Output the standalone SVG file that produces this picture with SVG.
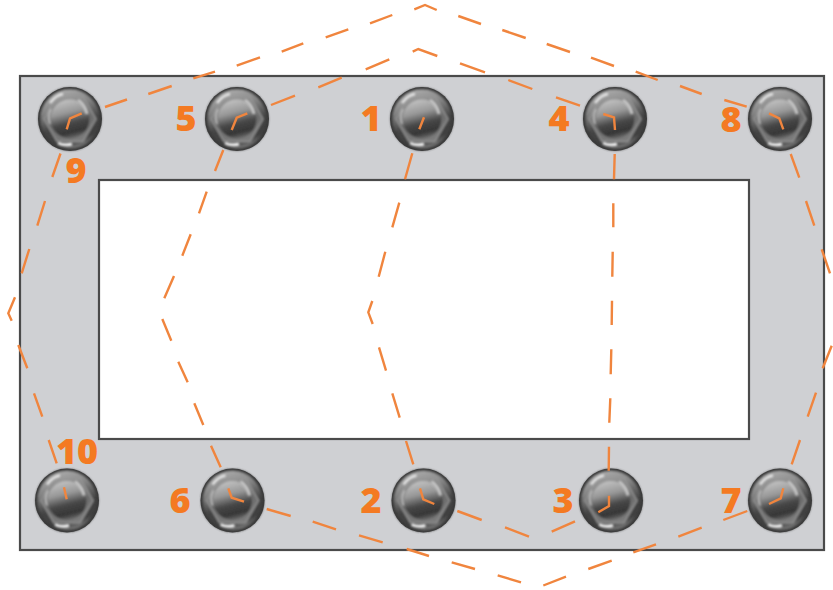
<svg xmlns="http://www.w3.org/2000/svg" xmlns:xlink="http://www.w3.org/1999/xlink" width="833" height="590" viewBox="0 0 833 590">
<style>
.plate{fill:#cfd0d3;stroke:#4a4a4a;stroke-width:2.2}
.win{fill:#fff;stroke:#4a4a4a;stroke-width:2.2}
.lbl{font-family:"Open Sans","Liberation Sans",sans-serif;font-weight:800;font-size:36px;fill:#f47a22;text-anchor:middle}
.c{fill:none;stroke:#f0853e;stroke-width:2.4;stroke-linecap:butt;stroke-linejoin:miter}
</style>
<defs>
<linearGradient id="sweep" x1="0.3" y1="0" x2="0.6" y2="1">
<stop offset="0" stop-color="#b0b0b0"/><stop offset="0.3" stop-color="#858585"/><stop offset="0.6" stop-color="#444"/><stop offset="0.85" stop-color="#3f3f3f"/><stop offset="1" stop-color="#808080"/>
</linearGradient>
<linearGradient id="hexf" x1="0.3" y1="0" x2="0.6" y2="1">
<stop offset="0" stop-color="#9c9c9c"/><stop offset="0.55" stop-color="#6c6c6c"/><stop offset="1" stop-color="#7c7c7c"/>
</linearGradient>
<linearGradient id="dome" x1="0.3" y1="0" x2="0.55" y2="1">
<stop offset="0" stop-color="#c4c4c4"/><stop offset="0.35" stop-color="#979797"/><stop offset="0.62" stop-color="#474747"/><stop offset="0.85" stop-color="#363636"/><stop offset="1" stop-color="#6a6a6a"/>
</linearGradient>
<filter id="soft" x="-10%" y="-10%" width="120%" height="120%"><feGaussianBlur stdDeviation="1"/></filter>
<filter id="soft2" x="-30%" y="-30%" width="160%" height="160%"><feGaussianBlur stdDeviation="1.3"/></filter>
<g id="bolt">
<circle r="32" fill="#3a3a3a"/>
<g filter="url(#soft)">
<circle r="30" fill="url(#sweep)"/>
<path d="M-26 0L-13-22.500H13L26 0L13 22.500H-13Z" fill="url(#hexf)" stroke="#9a9a9a" stroke-width="1.200"/>
<circle r="19.500" fill="url(#dome)"/>
<circle r="30.500" fill="none" stroke="#3a3a3a" stroke-width="2"/>
</g>
<g filter="url(#soft2)">
<path d="M-20-16Q-14-24-7-25" fill="none" stroke="#e6e6e6" stroke-width="2.400"/>
<path d="M-12 24Q-6 27 2 25" fill="none" stroke="#f2f2f2" stroke-width="3"/>
<path d="M-20 5Q-23-3-19-10" fill="none" stroke="#bdbdbd" stroke-width="1.800"/>
<path d="M8-19Q15-14 17-5" fill="none" stroke="#c4c4c4" stroke-width="3"/>
</g>
</g>
</defs>
<g id="plate">
<rect class="plate" x="20" y="76" width="804" height="474"/>
<rect class="win" x="99" y="180" width="650" height="259"/>
</g>
<g id="n9"><use href="#bolt" xlink:href="#bolt" x="70" y="119"/><text class="lbl" x="76" y="183">9</text></g>
<g id="n5"><use href="#bolt" xlink:href="#bolt" x="237" y="119"/><text class="lbl" x="186" y="131">5</text></g>
<g id="n1"><use href="#bolt" xlink:href="#bolt" x="422" y="119"/><text class="lbl" x="371" y="131">1</text></g>
<g id="n4"><use href="#bolt" xlink:href="#bolt" x="615" y="119"/><text class="lbl" x="559" y="131">4</text></g>
<g id="n8"><use href="#bolt" xlink:href="#bolt" x="780" y="119"/><text class="lbl" x="731" y="132">8</text></g>
<g id="n10"><use href="#bolt" xlink:href="#bolt" x="67" y="500.5"/><text class="lbl" x="77" y="464">10</text></g>
<g id="n6"><use href="#bolt" xlink:href="#bolt" x="232.500" y="500.5"/><text class="lbl" x="180" y="513">6</text></g>
<g id="n2"><use href="#bolt" xlink:href="#bolt" x="423.500" y="500.5"/><text class="lbl" x="371" y="513">2</text></g>
<g id="n3"><use href="#bolt" xlink:href="#bolt" x="611" y="500.5"/><text class="lbl" x="563" y="513">3</text></g>
<g id="n7"><use href="#bolt" xlink:href="#bolt" x="780" y="500.5"/><text class="lbl" x="731" y="513">7</text></g>
<g id="connectors">
<path class="c" d="M66.700 129.300L70 118.300L81.700 113.300M105 107L127 99.500M148.300 94L171.700 86M193.300 78.300L215 71.700M236.700 65.700L260 57.300M281.700 51.700L303.300 43.300M325.700 37.300L348.300 29.300M370 23.300L392.300 15M414.300 9.300L425 5L436.700 10M458.300 16L481 24M502.300 30L525.700 38M546.700 44L570 52M591 57.700L614 66M635.700 71.700L657.700 80M680 86L701.700 94M724.300 100L746.700 106.700M769 113.300L779.300 118.300L783.300 129.300"/>
<path class="c" d="M231.700 130L236.700 117.700L247.300 113.300M271 105L295 95.700M318.300 87.300L341.700 77.700M365.700 69.300L389.300 59.300M412.700 51.700L418.300 49L437.300 56M460 63.300L485 72.300M508.300 80L532.300 89M556 97.300L580 105.700M603.300 114L614 117.300L615 130"/>
<path class="c" d="M60.500 153.500L52.300 177M45 201L37.300 225.700M29.300 249L21.700 273.300M15 297.300L8.300 313.300L11.700 320.700M18.300 345L27.300 368.300M34 393.300L42.300 416.700M48.700 440L56.700 463.300M64 487.300L66.700 499.300"/>
<path class="c" d="M223.300 150L215 171M206.700 191.700L199 213.300M190.700 234.300L182.300 255.700M174 276L164.300 298.300M162.300 319L171.300 340.700M178.300 361.700L187.700 382.300M194.300 403.300L203.300 425M211 445.700L220.700 467.300M228.300 488.300L231.700 497.700L244 501.700"/>
<path class="c" d="M419.300 129.300L424 117.300M412.300 153.300L405 179.300M399.300 202.700L392.300 227.300M385.300 251.700L378.700 276.700M372.300 301L368.300 312.300L372.700 324M379 347.300L386 370.700M392.300 393.300L399.700 417.700M406 441L413.300 464.300M420 488.300L423.300 499.300L434.300 504"/>
<path class="c" d="M614.700 154L614 179.300M613.300 203.300L613.300 227.300M612.700 251.700L612.300 276.700M612 300.700L611.700 325M611.300 349.300L610.700 374.300M610.300 398.300L609.300 422.700M609 446.700L608.700 470.700M609 495.700L609 506L598.300 512.300"/>
<path class="c" d="M790.700 154L799.300 177.700M806 201L814.300 225.700M821.700 249.300L830 273.300M831.700 345.700L822.700 368.300M816 392.700L807.700 416.700M800 440L791.700 464.300M783.300 488.300L780.700 498.300L769 504"/>
<path class="c" d="M747.300 511L723.300 520M701.700 527.700L678.300 536.700M656 544.300L633.300 552.300M611.700 560.700L588.300 569M566 576.700L543.300 585.500M521 582.300L497.700 575.300M475 569L451.700 562.300M429 556L406.700 549M382.700 542.300L359 535.300M336 529.300L312.700 521.700M290.700 516L266.700 509"/>
<path class="c" d="M457.300 511L481.700 520M505 527.300L529 536.700M551.700 531.700L575 521.300"/>
</g>
</svg>
